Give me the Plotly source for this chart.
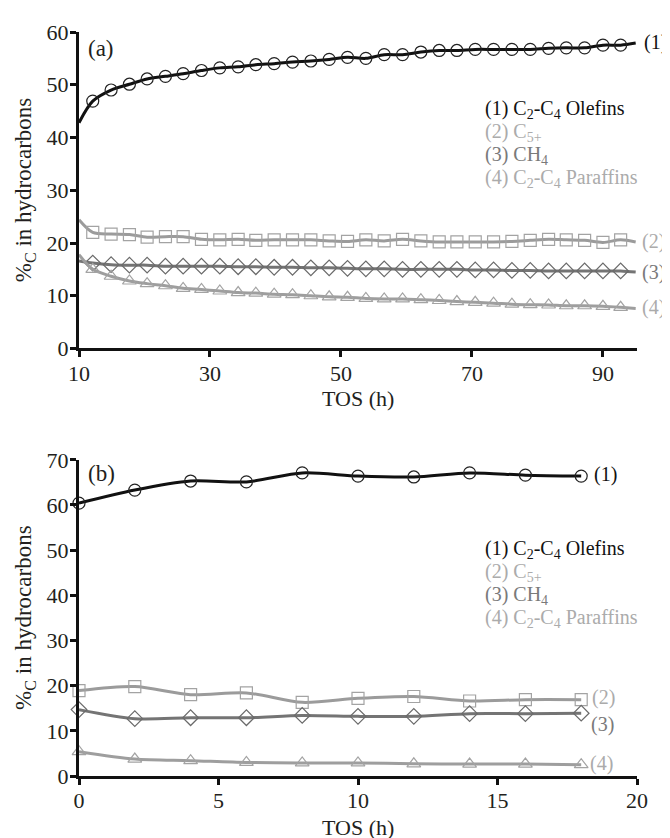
import plotly.graph_objects as go

# ---------------- Panel (a) data ----------------
tos_a = [12.1, 14.9, 17.7, 20.4, 23.2, 25.9, 28.7, 31.5, 34.3, 37.0,
         39.8, 42.6, 45.4, 48.2, 51.0, 53.8, 56.6, 59.4, 62.2, 65.0,
         67.7, 70.5, 73.3, 76.1, 78.9, 81.7, 84.4, 87.2, 90.0, 92.7]
olefins_a = [46.9, 49.0, 50.1, 51.1, 51.6, 52.1, 52.7, 53.2, 53.4, 53.8,
             54.0, 54.3, 54.5, 54.8, 55.2, 55.0, 55.7, 55.7, 56.2, 56.5,
             56.5, 56.7, 56.7, 56.7, 56.7, 56.9, 57.0, 57.0, 57.5, 57.5]
c5_a = [22.0, 21.7, 21.6, 21.1, 21.2, 21.2, 20.7, 20.6, 20.7, 20.5,
        20.6, 20.6, 20.6, 20.4, 20.3, 20.6, 20.4, 20.7, 20.4, 20.2,
        20.2, 20.2, 20.2, 20.3, 20.5, 20.7, 20.6, 20.5, 20.1, 20.6]
ch4_a = [16.2, 15.9, 15.8, 15.8, 15.6, 15.6, 15.6, 15.6, 15.5, 15.5,
         15.4, 15.4, 15.3, 15.3, 15.2, 15.1, 15.1, 15.0, 15.0, 15.0,
         15.0, 14.9, 14.9, 14.8, 14.8, 14.7, 14.7, 14.7, 14.7, 14.7]
paraffins_a = [15.0, 13.7, 12.8, 12.3, 11.9, 11.4, 11.2, 10.9, 10.6, 10.5,
               10.3, 10.2, 10.0, 9.8, 9.7, 9.5, 9.4, 9.4, 9.25, 9.1,
               8.9, 8.75, 8.6, 8.4, 8.3, 8.25, 8.1, 8.1, 8.0, 7.8]
# smooth curve ends (TOS 10 and 95)
line_ends_x_a = [10, 95]
olefins_ends_a = [42.8, 57.9]
c5_ends_a = [24.4, 20.2]
ch4_ends_a = [16.6, 14.5]
paraffins_ends_a = [17.8, 7.6]

# ---------------- Panel (b) data ----------------
tos_b = [0, 2, 4, 6, 8, 10, 12, 14, 16, 18]
olefins_b = [60.4, 63.3, 65.3, 65.1, 67.1, 66.4, 66.2, 67.1, 66.6, 66.4]
c5_b = [18.9, 19.8, 18.0, 18.4, 16.3, 17.2, 17.6, 16.6, 16.9, 16.9]
ch4_b = [14.7, 12.7, 12.9, 12.9, 13.4, 13.2, 13.2, 13.8, 13.8, 13.9]
paraffins_b = [5.4, 3.75, 3.4, 3.0, 2.9, 2.9, 2.7, 2.65, 2.65, 2.5]

legend_labels = ["(1) C<sub>2</sub>-C<sub>4</sub> Olefins", "(2) C<sub>5+</sub>",
                 "(3) CH<sub>4</sub>", "(4) C<sub>2</sub>-C<sub>4</sub> Paraffins"]
end_labels = ["(1)", "(2)", "(3)", "(4)"]

FONT = "Liberation Serif, Times New Roman, DejaVu Serif, serif"
series_style = [
    dict(line="#111111", marker="#222222", symbol="circle-open", text="#111111"),
    dict(line="#9b9b9b", marker="#a3a3a3", symbol="square-open", text="#ababab"),
    dict(line="#747474", marker="#6a6a6a", symbol="diamond-open", text="#7a7a7a"),
    dict(line="#9e9e9e", marker="#a3a3a3", symbol="triangle-up-open", text="#ababab"),
]

fig = go.Figure()

# Panel (a): smooth lines + markers
vals_a = [olefins_a, c5_a, ch4_a, paraffins_a]
ends_a = [olefins_ends_a, c5_ends_a, ch4_ends_a, paraffins_ends_a]
for vals, ends, st in zip(vals_a, ends_a, series_style):
    fig.add_trace(go.Scatter(
        x=[line_ends_x_a[0]] + tos_a + [line_ends_x_a[1]],
        y=[ends[0]] + vals + [ends[1]],
        mode="lines", line=dict(color=st["line"], width=3, shape="spline", smoothing=0.9),
        xaxis="x", yaxis="y", cliponaxis=False, showlegend=False, hoverinfo="skip"))
    fig.add_trace(go.Scatter(
        x=tos_a, y=vals, mode="markers",
        marker=dict(symbol=st["symbol"], size=12, color=st["marker"], line=dict(width=1.2)),
        xaxis="x", yaxis="y", cliponaxis=False, showlegend=False))

# Panel (b)
vals_b = [olefins_b, c5_b, ch4_b, paraffins_b]
for vals, st in zip(vals_b, series_style):
    fig.add_trace(go.Scatter(
        x=tos_b, y=vals, mode="lines",
        line=dict(color=st["line"], width=3, shape="spline", smoothing=0.8),
        xaxis="x2", yaxis="y2", cliponaxis=False, showlegend=False, hoverinfo="skip"))
    fig.add_trace(go.Scatter(
        x=tos_b, y=vals, mode="markers",
        marker=dict(symbol=st["symbol"], size=12, color=st["marker"], line=dict(width=1.2)),
        xaxis="x2", yaxis="y2", cliponaxis=False, showlegend=False))

axis_common = dict(showline=True, linewidth=3, linecolor="#111111", ticks="outside",
                   ticklen=6, tickwidth=3, tickcolor="#111111", showgrid=False,
                   zeroline=False, ticklabelstandoff=-3,
                   tickfont=dict(family=FONT, size=22, color="#231f20"))

# the page body adds an 8px offset, so the figure is sized to fit the window
fig.update_layout(
    width=662, height=830,
    margin=dict(l=71, r=33, t=15, b=62),
    paper_bgcolor="white", plot_bgcolor="white",
    font=dict(family=FONT),
    xaxis=dict(axis_common, range=[10, 95.2], tickvals=[10, 30, 50, 70, 90], anchor="y"),
    yaxis=dict(axis_common, range=[0, 60], dtick=10, domain=[0.5746, 1.0], anchor="x"),
    xaxis2=dict(axis_common, range=[0, 20], tickvals=[0, 5, 10, 15, 20], anchor="y2"),
    yaxis2=dict(axis_common, range=[0, 70], dtick=10, domain=[0, 0.425], anchor="x2"),
)

ann = []
# panel labels
ann.append(dict(text="(a)", xref="x domain", yref="y", x=0, y=56.9, xshift=7,
                xanchor="left", yanchor="middle", showarrow=False,
                font=dict(family=FONT, size=23, color="#231f20")))
ann.append(dict(text="(b)", xref="x2 domain", yref="y2", x=0, y=66.9, xshift=7,
                xanchor="left", yanchor="middle", showarrow=False,
                font=dict(family=FONT, size=23, color="#231f20")))
# axis titles
for xd, yd, shift in [("x domain", "y domain", -50), ("x2 domain", "y2 domain", -51)]:
    ann.append(dict(text="TOS (h)", xref=xd, yref=yd, x=0.5, y=0, yshift=shift,
                    xanchor="center", yanchor="middle", showarrow=False,
                    font=dict(family=FONT, size=22, color="#231f20")))
    ann.append(dict(text="%<sub>C</sub> in hydrocarbons", xref=xd, yref=yd, x=0, y=0.5,
                    xshift=-54, textangle=-90, xanchor="center", yanchor="middle",
                    showarrow=False, font=dict(family=FONT, size=23, color="#231f20")))
# legend blocks
leg_y_a = [45.3, 40.9, 36.6, 32.2]
leg_y_b = [50.2, 45.1, 40.0, 34.9]
for lab, st, ya, yb in zip(legend_labels, series_style, leg_y_a, leg_y_b):
    ann.append(dict(text=lab, xref="x domain", yref="y", x=0.724, y=ya, xanchor="left",
                    yanchor="middle", showarrow=False,
                    font=dict(family=FONT, size=20, color=st["text"])))
    ann.append(dict(text=lab, xref="x2 domain", yref="y2", x=0.724, y=yb, xanchor="left",
                    yanchor="middle", showarrow=False,
                    font=dict(family=FONT, size=20, color=st["text"])))
# end labels
end_y_a = [58.1, 20.3, 14.4, 7.8]
end_y_b = [66.7, 17.3, 11.5, 2.7]
shift_a = [5, 3, 3, 3]
shift_b = [11, 9, 8, 7]
for lab, st, ya, yb, sa, sb in zip(end_labels, series_style, end_y_a, end_y_b, shift_a, shift_b):
    ann.append(dict(text=lab, xref="x domain", yref="y", x=1, y=ya, xshift=sa,
                    xanchor="left", yanchor="middle", showarrow=False,
                    font=dict(family=FONT, size=20, color=st["text"])))
    ann.append(dict(text=lab, xref="x2", yref="y2", x=18, y=yb, xshift=sb,
                    xanchor="left", yanchor="middle", showarrow=False,
                    font=dict(family=FONT, size=20, color=st["text"])))
fig.update_layout(annotations=ann)

fig.write_html("out.html")
